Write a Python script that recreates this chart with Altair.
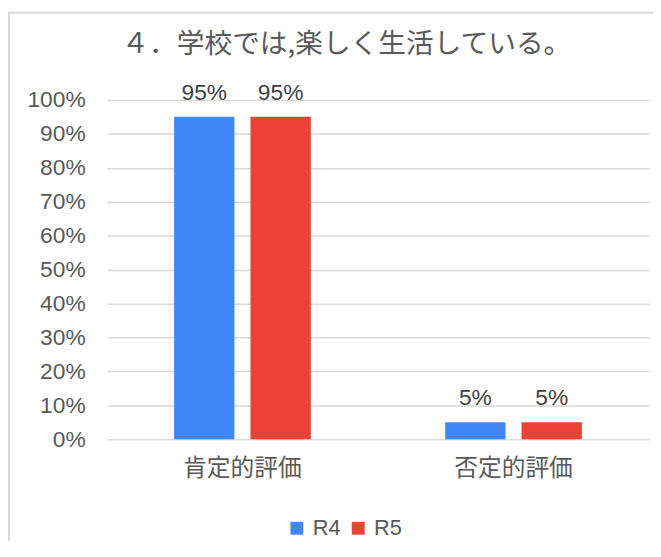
import altair as alt
import pandas as pd

categories = ["肯定的評価", "否定的評価"]
series = ["R4", "R5"]
r4_values = [0.95, 0.05]
r5_values = [0.95, 0.05]
colors = ["#4285F4", "#EA4335"]
title_text = "４．学校では,楽しく生活している。"

rows = []
for i, c in enumerate(categories):
    rows.append({"cat": c, "series": "R4", "value": r4_values[i]})
    rows.append({"cat": c, "series": "R5", "value": r5_values[i]})
df = pd.DataFrame(rows)

FONT = "Liberation Sans, Noto Sans CJK JP"

x = alt.X("cat:N", sort=categories, title=None,
          scale=alt.Scale(paddingInner=0, paddingOuter=0),
          axis=alt.Axis(labelAngle=0, labelFontSize=24, labelColor="#595959",
                        labelFont=FONT, ticks=False, domain=False, labelPadding=18))
xoff = alt.XOffset("series:N", sort=series,
                   scale=alt.Scale(paddingInner=0.21, paddingOuter=0.88))
y = alt.Y("value:Q", title=None,
          scale=alt.Scale(domain=[0, 1]),
          axis=alt.Axis(format="%", values=[i / 10 for i in range(11)],
                        labelFontSize=23, labelColor="#595959", labelFont=FONT,
                        ticks=False, domain=False, labelPadding=22,
                        gridColor="#d9d9d9", gridWidth=1.5))

base = alt.Chart(df)

bars = base.mark_bar().encode(
    x=x, xOffset=xoff, y=y,
    color=alt.Color("series:N", sort=series,
                    scale=alt.Scale(domain=series, range=colors),
                    legend=alt.Legend(title=None, orient="none", direction="horizontal",
                                      legendX=181, legendY=422,
                                      symbolType="square", symbolSize=169,
                                      labelFontSize=22, labelColor="#595959",
                                      labelFont=FONT, columnPadding=6, labelOffset=5,
                                      symbolStrokeWidth=0)),
)

labels = base.mark_text(dy=-17, fontSize=23, color="#404040", font=FONT,
                        baseline="alphabetic").encode(
    x=x, xOffset=xoff, y=y,
    text=alt.Text("value:Q", format=".0%"),
)

border = alt.Chart(pd.DataFrame({"a": [0]})).mark_rect(
    fill=None, stroke="#d9d9d9", strokeWidth=2
).encode(x=alt.value(-99), x2=alt.value(700), y=alt.value(-88), y2=alt.value(600))

chart = alt.layer(border, bars, labels).properties(
    width=548, height=343,
    autosize=alt.AutoSizeParams(type="none"),
    padding={"left": 100, "top": 90, "right": 4, "bottom": 100},
    title=alt.TitleParams(title_text, fontSize=28, color="#595959",
                          font="Noto Sans CJK JP", fontWeight="normal",
                          anchor="middle", dx=-32, offset=-48),
).configure(background="white", view=alt.ViewConfig(stroke=None))

chart.save("out.html", embed_options={"renderer": "svg", "actions": False})
